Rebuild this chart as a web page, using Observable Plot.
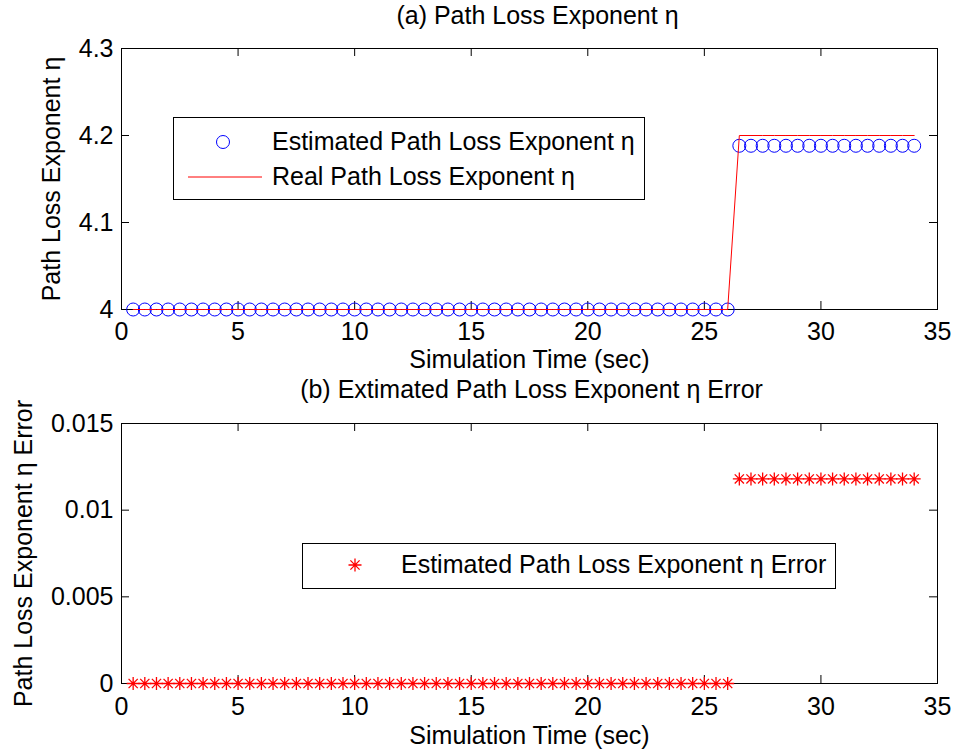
<!DOCTYPE html>
<html><head><meta charset="utf-8">
<script src="https://cdn.jsdelivr.net/npm/d3@7"></script>
<script src="https://cdn.jsdelivr.net/npm/@observablehq/plot@0.6"></script>
<style>
body{margin:0;background:#fff;}
#fig{position:relative;width:956px;height:755px;background:#fff;font-family:"Liberation Sans",Arial,sans-serif;}
#fig svg{position:absolute;left:0;}
</style></head><body><div id="fig"></div>
<script>
// ---- data ----
const time = [0.5,1,1.5,2,2.5,3,3.5,4,4.5,5,5.5,6,6.5,7,7.5,8,8.5,9,9.5,10,10.5,11,11.5,12,12.5,13,
  13.5,14,14.5,15,15.5,16,16.5,17,17.5,18,18.5,19,19.5,20,20.5,21,21.5,22,22.5,23,23.5,24,24.5,25,25.5,26,
  26.5,27,27.5,28,28.5,29,29.5,30,30.5,31,31.5,32,32.5,33,33.5,34];
const estimated = [4,4,4,4,4,4,4,4,4,4,4,4,4,
  4,4,4,4,4,4,4,4,4,4,4,4,4,
  4,4,4,4,4,4,4,4,4,4,4,4,4,
  4,4,4,4,4,4,4,4,4,4,4,4,4,
  4.1882,4.1882,4.1882,4.1882,4.1882,4.1882,4.1882,4.1882,
  4.1882,4.1882,4.1882,4.1882,4.1882,4.1882,4.1882,4.1882];
const real = [4,4,4,4,4,4,4,4,4,4,4,4,4,
  4,4,4,4,4,4,4,4,4,4,4,4,4,
  4,4,4,4,4,4,4,4,4,4,4,4,4,
  4,4,4,4,4,4,4,4,4,4,4,4,4,
  4.2,4.2,4.2,4.2,4.2,4.2,4.2,4.2,
  4.2,4.2,4.2,4.2,4.2,4.2,4.2,4.2];
const errorVals = [0,0,0,0,0,0,0,0,0,0,0,0,0,
  0,0,0,0,0,0,0,0,0,0,0,0,0,
  0,0,0,0,0,0,0,0,0,0,0,0,0,
  0,0,0,0,0,0,0,0,0,0,0,0,0,
  0.0118,0.0118,0.0118,0.0118,0.0118,0.0118,0.0118,0.0118,
  0.0118,0.0118,0.0118,0.0118,0.0118,0.0118,0.0118,0.0118];
const xTicks = [0,5,10,15,20,25,30,35];
const yTicksA = [4,4.1,4.2,4.3];
const yTicksB = [0,0.005,0.01,0.015];
const titleA = "(a) Path Loss Exponent η";
const titleB = "(b) Extimated Path Loss Exponent η Error";
const xLabel = "Simulation Time (sec)";
const yLabelA = "Path Loss Exponent η";
const yLabelB = "Path Loss Exponent η Error";
const legendA = ["Estimated Path Loss Exponent η", "Real Path Loss Exponent η"];
const legendB = ["Estimated Path Loss Exponent η Error"];

// ---- layout ----
const W = 956, ML = 121, MR = 19, FS = 25;
const FONT = "Liberation Sans, Arial, sans-serif";
const BLUE = "#0000ff", RED = "#ff0000";
const asterisk8 = {draw(ctx, size){
  const r = Math.sqrt(size/Math.PI), d = r*Math.SQRT1_2;
  ctx.moveTo(-r,0); ctx.lineTo(r,0);
  ctx.moveTo(0,-r); ctx.lineTo(0,r);
  ctx.moveTo(-d,-d); ctx.lineTo(d,d);
  ctx.moveTo(-d,d); ctx.lineTo(d,-d);
}};

const estData = time.map((t,i)=>({t, v: estimated[i]}));
const realData = time.map((t,i)=>({t, v: real[i]}));
const errData = time.map((t,i)=>({t, v: errorVals[i]}));

function panel({height, mt, mb, yDomain, yTicks, dataMarks, title, titleDx, titleDy, yLabel, yLabelDx, xLabelDy, xPad}){
  const pw = W - ML - MR, ph = height - mt - mb;
  return Plot.plot({
    width: W, height, marginLeft: ML, marginRight: MR, marginTop: mt, marginBottom: mb,
    style: {fontFamily: FONT, fontSize: FS + "px", background: "none", color: "black", overflow: "visible"},
    x: {domain: [0, 35]},
    y: {domain: yDomain},
    marks: [
      Plot.frame({stroke: "black", strokeWidth: 1}),
      Plot.tickX(xTicks, {x: d => d, stroke: "black", insetTop: ph - 8}),
      Plot.tickX(xTicks, {x: d => d, stroke: "black", insetBottom: ph - 8}),
      Plot.tickY(yTicks, {y: d => d, stroke: "black", insetRight: pw - 8}),
      Plot.tickY(yTicks, {y: d => d, stroke: "black", insetLeft: pw - 8}),
      Plot.axisX(xTicks, {tickSize: 0, tickPadding: xPad, fontSize: FS, label: null, tickFormat: d => String(d)}),
      Plot.axisY(yTicks, {tickSize: 0, tickPadding: 8, fontSize: FS, label: null, tickFormat: d => String(d)}),
      ...dataMarks,
      Plot.text([title], {frameAnchor: "top", dx: titleDx, dy: titleDy, textAnchor: "middle", lineAnchor: "bottom", fontSize: FS, fill: "black"}),
      Plot.text([xLabel], {frameAnchor: "bottom", dy: xLabelDy, textAnchor: "middle", lineAnchor: "bottom", fontSize: FS, fill: "black"}),
      Plot.text([yLabel], {frameAnchor: "left", dx: yLabelDx, rotate: -90, textAnchor: "middle", lineAnchor: "bottom", fontSize: FS, fill: "black"})
    ]
  });
}

const fig = document.getElementById("fig");

const pA = panel({height: 370, mt: 48, mb: 61, yDomain: [4, 4.3], yTicks: yTicksA,
  title: titleA, titleDx: 8, titleDy: -25, yLabel: yLabelA, yLabelDx: -62, xLabelDy: 58, xPad: 13,
  dataMarks: [
    Plot.dot(estData, {x: "t", y: "v", r: 6.5, stroke: BLUE, fill: "none", strokeWidth: 1}),
    Plot.line(realData, {x: "t", y: "v", stroke: RED, strokeWidth: 1})
  ]});
pA.style.top = "0px";
fig.appendChild(pA);

const pB = panel({height: 385, mt: 53, mb: 72, yDomain: [0, 0.015], yTicks: yTicksB,
  title: titleB, titleDx: 2, titleDy: -26, yLabel: yLabelB, yLabelDx: -90, xLabelDy: 60, xPad: 14,
  dataMarks: [
    Plot.dot(errData, {x: "t", y: "v", r: 6.5, symbol: asterisk8, stroke: RED, fill: "none", strokeWidth: 1.3})
  ]});
pB.style.top = "370px";
fig.appendChild(pB);

// ---- legends (overlay) ----
const ov = d3.select(fig).append("svg")
  .attr("width", W).attr("height", 755).style("top", "0px")
  .style("pointer-events", "none")
  .attr("font-family", FONT).attr("font-size", FS);

// legend A
const gA = ov.append("g");
gA.append("rect").attr("x", 173.5).attr("y", 117.5).attr("width", 471).attr("height", 82)
  .attr("fill", "white").attr("stroke", "black");
gA.append("circle").attr("cx", 223).attr("cy", 142).attr("r", 6.5)
  .attr("fill", "none").attr("stroke", BLUE);
gA.append("text").attr("x", 272).attr("y", 150).text(legendA[0]);
gA.append("line").attr("x1", 188).attr("x2", 262).attr("y1", 177).attr("y2", 177)
  .attr("stroke", RED);
gA.append("text").attr("x", 272).attr("y", 185).text(legendA[1]);

// legend B
const gB = ov.append("g");
gB.append("rect").attr("x", 302.5).attr("y", 543.5).attr("width", 533).attr("height", 45)
  .attr("fill", "white").attr("stroke", "black");
gB.append("path").attr("transform", "translate(355,565)")
  .attr("d", d3.symbol().type(asterisk8).size(Math.PI*6.5*6.5)())
  .attr("fill", "none").attr("stroke", RED).attr("stroke-width", 1.3);
gB.append("text").attr("x", 401).attr("y", 573).text(legendB[0]);
</script>
</body></html>
